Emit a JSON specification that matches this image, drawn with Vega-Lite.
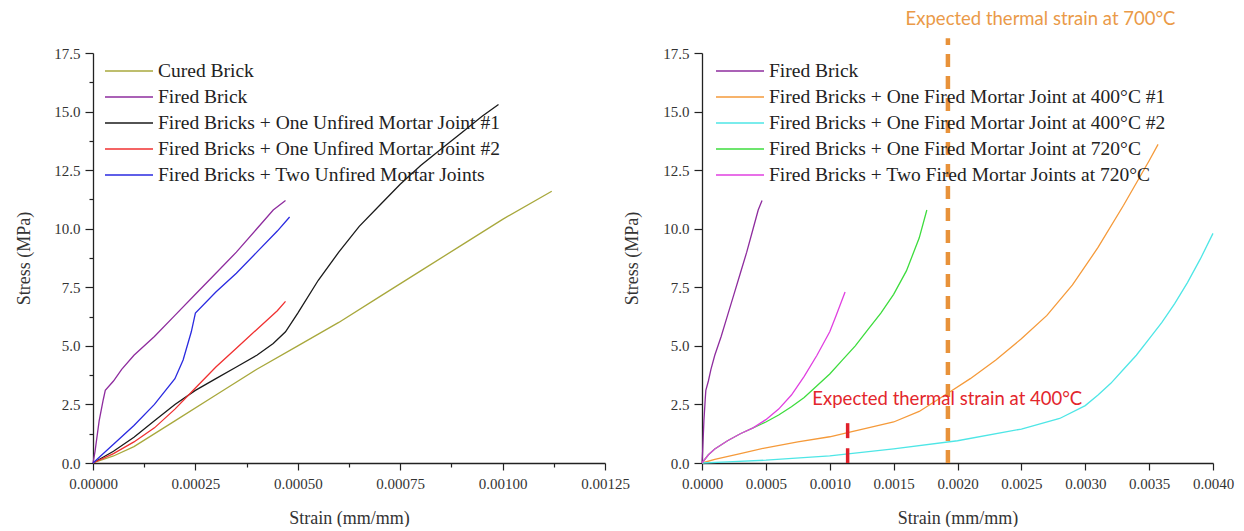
{
  "$schema": "https://vega.github.io/schema/vega-lite/v6.json",
  "background": "white",
  "padding": {"left": 15, "top": 10, "right": 5, "bottom": 0},
  "bounds": "flush",
  "spacing": 97,
  "config": {
    "view": {"stroke": null},
    "legend": {
      "labelFont": "Liberation Serif",
      "labelFontSize": 19.5,
      "labelColor": "#222222",
      "symbolType": "stroke",
      "symbolSize": 2304,
      "symbolStrokeWidth": 1.6,
      "labelLimit": 600,
      "clipHeight": 20,
      "rowPadding": 6,
      "labelOffset": 4
    }
  },
  "datasets": {
    "left": [
      {"series": "Cured Brick", "strain": 0, "stress": 0},
      {"series": "Cured Brick", "strain": 0.00005, "stress": 0.3},
      {"series": "Cured Brick", "strain": 0.0001, "stress": 0.7},
      {"series": "Cured Brick", "strain": 0.0002, "stress": 1.8},
      {"series": "Cured Brick", "strain": 0.0003, "stress": 2.9},
      {"series": "Cured Brick", "strain": 0.0004, "stress": 4.0},
      {"series": "Cured Brick", "strain": 0.0005, "stress": 5.0},
      {"series": "Cured Brick", "strain": 0.0006, "stress": 6.0},
      {"series": "Cured Brick", "strain": 0.0007, "stress": 7.1},
      {"series": "Cured Brick", "strain": 0.0008, "stress": 8.2},
      {"series": "Cured Brick", "strain": 0.0009, "stress": 9.3},
      {"series": "Cured Brick", "strain": 0.001, "stress": 10.4},
      {"series": "Cured Brick", "strain": 0.00112, "stress": 11.6},
      {"series": "Fired Brick", "strain": 0, "stress": 0},
      {"series": "Fired Brick", "strain": 0.000005, "stress": 0.5},
      {"series": "Fired Brick", "strain": 0.000015, "stress": 1.8},
      {"series": "Fired Brick", "strain": 0.000025, "stress": 2.7},
      {"series": "Fired Brick", "strain": 0.00003, "stress": 3.1},
      {"series": "Fired Brick", "strain": 0.00005, "stress": 3.5},
      {"series": "Fired Brick", "strain": 0.00007, "stress": 4.0},
      {"series": "Fired Brick", "strain": 0.0001, "stress": 4.6},
      {"series": "Fired Brick", "strain": 0.00015, "stress": 5.4},
      {"series": "Fired Brick", "strain": 0.0002, "stress": 6.3},
      {"series": "Fired Brick", "strain": 0.00025, "stress": 7.2},
      {"series": "Fired Brick", "strain": 0.0003, "stress": 8.1},
      {"series": "Fired Brick", "strain": 0.00035, "stress": 9.0},
      {"series": "Fired Brick", "strain": 0.0004, "stress": 10.0},
      {"series": "Fired Brick", "strain": 0.00044, "stress": 10.8},
      {"series": "Fired Brick", "strain": 0.00047, "stress": 11.2},
      {"series": "Fired Bricks + One Unfired Mortar Joint #1", "strain": 0, "stress": 0},
      {"series": "Fired Bricks + One Unfired Mortar Joint #1", "strain": 0.00005, "stress": 0.5},
      {"series": "Fired Bricks + One Unfired Mortar Joint #1", "strain": 0.0001, "stress": 1.1},
      {"series": "Fired Bricks + One Unfired Mortar Joint #1", "strain": 0.00015, "stress": 1.8},
      {"series": "Fired Bricks + One Unfired Mortar Joint #1", "strain": 0.0002, "stress": 2.5},
      {"series": "Fired Bricks + One Unfired Mortar Joint #1", "strain": 0.00025, "stress": 3.1},
      {"series": "Fired Bricks + One Unfired Mortar Joint #1", "strain": 0.0003, "stress": 3.6},
      {"series": "Fired Bricks + One Unfired Mortar Joint #1", "strain": 0.00035, "stress": 4.1},
      {"series": "Fired Bricks + One Unfired Mortar Joint #1", "strain": 0.0004, "stress": 4.6},
      {"series": "Fired Bricks + One Unfired Mortar Joint #1", "strain": 0.00044, "stress": 5.1},
      {"series": "Fired Bricks + One Unfired Mortar Joint #1", "strain": 0.00047, "stress": 5.6},
      {"series": "Fired Bricks + One Unfired Mortar Joint #1", "strain": 0.0005, "stress": 6.4},
      {"series": "Fired Bricks + One Unfired Mortar Joint #1", "strain": 0.00055, "stress": 7.8},
      {"series": "Fired Bricks + One Unfired Mortar Joint #1", "strain": 0.0006, "stress": 9.0},
      {"series": "Fired Bricks + One Unfired Mortar Joint #1", "strain": 0.00065, "stress": 10.1},
      {"series": "Fired Bricks + One Unfired Mortar Joint #1", "strain": 0.0007, "stress": 11.0},
      {"series": "Fired Bricks + One Unfired Mortar Joint #1", "strain": 0.00075, "stress": 11.9},
      {"series": "Fired Bricks + One Unfired Mortar Joint #1", "strain": 0.0008, "stress": 12.7},
      {"series": "Fired Bricks + One Unfired Mortar Joint #1", "strain": 0.00085, "stress": 13.4},
      {"series": "Fired Bricks + One Unfired Mortar Joint #1", "strain": 0.0009, "stress": 14.1},
      {"series": "Fired Bricks + One Unfired Mortar Joint #1", "strain": 0.00095, "stress": 14.8},
      {"series": "Fired Bricks + One Unfired Mortar Joint #1", "strain": 0.00099, "stress": 15.3},
      {"series": "Fired Bricks + One Unfired Mortar Joint #2", "strain": 0, "stress": 0},
      {"series": "Fired Bricks + One Unfired Mortar Joint #2", "strain": 0.00005, "stress": 0.4},
      {"series": "Fired Bricks + One Unfired Mortar Joint #2", "strain": 0.0001, "stress": 0.9},
      {"series": "Fired Bricks + One Unfired Mortar Joint #2", "strain": 0.00015, "stress": 1.5},
      {"series": "Fired Bricks + One Unfired Mortar Joint #2", "strain": 0.0002, "stress": 2.3},
      {"series": "Fired Bricks + One Unfired Mortar Joint #2", "strain": 0.00025, "stress": 3.2},
      {"series": "Fired Bricks + One Unfired Mortar Joint #2", "strain": 0.0003, "stress": 4.1},
      {"series": "Fired Bricks + One Unfired Mortar Joint #2", "strain": 0.00035, "stress": 4.9},
      {"series": "Fired Bricks + One Unfired Mortar Joint #2", "strain": 0.0004, "stress": 5.7},
      {"series": "Fired Bricks + One Unfired Mortar Joint #2", "strain": 0.00045, "stress": 6.5},
      {"series": "Fired Bricks + One Unfired Mortar Joint #2", "strain": 0.00047, "stress": 6.9},
      {"series": "Fired Bricks + Two Unfired Mortar Joints", "strain": 0, "stress": 0},
      {"series": "Fired Bricks + Two Unfired Mortar Joints", "strain": 0.00005, "stress": 0.8},
      {"series": "Fired Bricks + Two Unfired Mortar Joints", "strain": 0.0001, "stress": 1.6},
      {"series": "Fired Bricks + Two Unfired Mortar Joints", "strain": 0.00015, "stress": 2.5},
      {"series": "Fired Bricks + Two Unfired Mortar Joints", "strain": 0.0002, "stress": 3.6},
      {"series": "Fired Bricks + Two Unfired Mortar Joints", "strain": 0.00022, "stress": 4.4},
      {"series": "Fired Bricks + Two Unfired Mortar Joints", "strain": 0.00024, "stress": 5.6},
      {"series": "Fired Bricks + Two Unfired Mortar Joints", "strain": 0.00025, "stress": 6.4},
      {"series": "Fired Bricks + Two Unfired Mortar Joints", "strain": 0.0003, "stress": 7.3},
      {"series": "Fired Bricks + Two Unfired Mortar Joints", "strain": 0.00035, "stress": 8.1},
      {"series": "Fired Bricks + Two Unfired Mortar Joints", "strain": 0.0004, "stress": 9.0},
      {"series": "Fired Bricks + Two Unfired Mortar Joints", "strain": 0.00045, "stress": 9.9},
      {"series": "Fired Bricks + Two Unfired Mortar Joints", "strain": 0.00048, "stress": 10.5}
    ],
    "right": [
      {"series": "Fired Brick", "strain": 0, "stress": 0},
      {"series": "Fired Brick", "strain": 0.000005, "stress": 0.5},
      {"series": "Fired Brick", "strain": 0.000015, "stress": 1.8},
      {"series": "Fired Brick", "strain": 0.000025, "stress": 2.7},
      {"series": "Fired Brick", "strain": 0.00003, "stress": 3.1},
      {"series": "Fired Brick", "strain": 0.00005, "stress": 3.5},
      {"series": "Fired Brick", "strain": 0.00007, "stress": 4.0},
      {"series": "Fired Brick", "strain": 0.0001, "stress": 4.6},
      {"series": "Fired Brick", "strain": 0.00015, "stress": 5.4},
      {"series": "Fired Brick", "strain": 0.0002, "stress": 6.3},
      {"series": "Fired Brick", "strain": 0.00025, "stress": 7.2},
      {"series": "Fired Brick", "strain": 0.0003, "stress": 8.1},
      {"series": "Fired Brick", "strain": 0.00035, "stress": 9.0},
      {"series": "Fired Brick", "strain": 0.0004, "stress": 10.0},
      {"series": "Fired Brick", "strain": 0.00044, "stress": 10.8},
      {"series": "Fired Brick", "strain": 0.00047, "stress": 11.2},
      {"series": "Fired Bricks + One Fired Mortar Joint at 400°C #1", "strain": 0, "stress": 0},
      {"series": "Fired Bricks + One Fired Mortar Joint at 400°C #1", "strain": 0.0001, "stress": 0.15},
      {"series": "Fired Bricks + One Fired Mortar Joint at 400°C #1", "strain": 0.0003, "stress": 0.4},
      {"series": "Fired Bricks + One Fired Mortar Joint at 400°C #1", "strain": 0.0005, "stress": 0.65},
      {"series": "Fired Bricks + One Fired Mortar Joint at 400°C #1", "strain": 0.00075, "stress": 0.9},
      {"series": "Fired Bricks + One Fired Mortar Joint at 400°C #1", "strain": 0.001, "stress": 1.12},
      {"series": "Fired Bricks + One Fired Mortar Joint at 400°C #1", "strain": 0.00114, "stress": 1.3},
      {"series": "Fired Bricks + One Fired Mortar Joint at 400°C #1", "strain": 0.0013, "stress": 1.5},
      {"series": "Fired Bricks + One Fired Mortar Joint at 400°C #1", "strain": 0.0015, "stress": 1.75},
      {"series": "Fired Bricks + One Fired Mortar Joint at 400°C #1", "strain": 0.0017, "stress": 2.2},
      {"series": "Fired Bricks + One Fired Mortar Joint at 400°C #1", "strain": 0.00193, "stress": 3.0},
      {"series": "Fired Bricks + One Fired Mortar Joint at 400°C #1", "strain": 0.0021, "stress": 3.6},
      {"series": "Fired Bricks + One Fired Mortar Joint at 400°C #1", "strain": 0.0023, "stress": 4.4},
      {"series": "Fired Bricks + One Fired Mortar Joint at 400°C #1", "strain": 0.0025, "stress": 5.3},
      {"series": "Fired Bricks + One Fired Mortar Joint at 400°C #1", "strain": 0.0027, "stress": 6.3},
      {"series": "Fired Bricks + One Fired Mortar Joint at 400°C #1", "strain": 0.0029, "stress": 7.6},
      {"series": "Fired Bricks + One Fired Mortar Joint at 400°C #1", "strain": 0.0031, "stress": 9.2},
      {"series": "Fired Bricks + One Fired Mortar Joint at 400°C #1", "strain": 0.0033, "stress": 11.0},
      {"series": "Fired Bricks + One Fired Mortar Joint at 400°C #1", "strain": 0.0035, "stress": 12.9},
      {"series": "Fired Bricks + One Fired Mortar Joint at 400°C #1", "strain": 0.00357, "stress": 13.6},
      {"series": "Fired Bricks + One Fired Mortar Joint at 400°C #2", "strain": 0, "stress": 0},
      {"series": "Fired Bricks + One Fired Mortar Joint at 400°C #2", "strain": 0.0002, "stress": 0.05},
      {"series": "Fired Bricks + One Fired Mortar Joint at 400°C #2", "strain": 0.0005, "stress": 0.12},
      {"series": "Fired Bricks + One Fired Mortar Joint at 400°C #2", "strain": 0.001, "stress": 0.3},
      {"series": "Fired Bricks + One Fired Mortar Joint at 400°C #2", "strain": 0.0015, "stress": 0.6},
      {"series": "Fired Bricks + One Fired Mortar Joint at 400°C #2", "strain": 0.002, "stress": 0.95},
      {"series": "Fired Bricks + One Fired Mortar Joint at 400°C #2", "strain": 0.0025, "stress": 1.45},
      {"series": "Fired Bricks + One Fired Mortar Joint at 400°C #2", "strain": 0.0028, "stress": 1.9},
      {"series": "Fired Bricks + One Fired Mortar Joint at 400°C #2", "strain": 0.003, "stress": 2.45},
      {"series": "Fired Bricks + One Fired Mortar Joint at 400°C #2", "strain": 0.0031, "stress": 2.9},
      {"series": "Fired Bricks + One Fired Mortar Joint at 400°C #2", "strain": 0.0032, "stress": 3.4},
      {"series": "Fired Bricks + One Fired Mortar Joint at 400°C #2", "strain": 0.0033, "stress": 4.0},
      {"series": "Fired Bricks + One Fired Mortar Joint at 400°C #2", "strain": 0.0034, "stress": 4.6},
      {"series": "Fired Bricks + One Fired Mortar Joint at 400°C #2", "strain": 0.0035, "stress": 5.3},
      {"series": "Fired Bricks + One Fired Mortar Joint at 400°C #2", "strain": 0.0036, "stress": 6.0},
      {"series": "Fired Bricks + One Fired Mortar Joint at 400°C #2", "strain": 0.0037, "stress": 6.8},
      {"series": "Fired Bricks + One Fired Mortar Joint at 400°C #2", "strain": 0.0038, "stress": 7.7},
      {"series": "Fired Bricks + One Fired Mortar Joint at 400°C #2", "strain": 0.0039, "stress": 8.7},
      {"series": "Fired Bricks + One Fired Mortar Joint at 400°C #2", "strain": 0.004, "stress": 9.8},
      {"series": "Fired Bricks + One Fired Mortar Joint at 720°C", "strain": 0, "stress": 0},
      {"series": "Fired Bricks + One Fired Mortar Joint at 720°C", "strain": 0.00005, "stress": 0.35},
      {"series": "Fired Bricks + One Fired Mortar Joint at 720°C", "strain": 0.0001, "stress": 0.6},
      {"series": "Fired Bricks + One Fired Mortar Joint at 720°C", "strain": 0.0002, "stress": 0.95},
      {"series": "Fired Bricks + One Fired Mortar Joint at 720°C", "strain": 0.0003, "stress": 1.25},
      {"series": "Fired Bricks + One Fired Mortar Joint at 720°C", "strain": 0.0004, "stress": 1.5},
      {"series": "Fired Bricks + One Fired Mortar Joint at 720°C", "strain": 0.0005, "stress": 1.75},
      {"series": "Fired Bricks + One Fired Mortar Joint at 720°C", "strain": 0.0006, "stress": 2.05},
      {"series": "Fired Bricks + One Fired Mortar Joint at 720°C", "strain": 0.0007, "stress": 2.4},
      {"series": "Fired Bricks + One Fired Mortar Joint at 720°C", "strain": 0.0008, "stress": 2.8},
      {"series": "Fired Bricks + One Fired Mortar Joint at 720°C", "strain": 0.0009, "stress": 3.3},
      {"series": "Fired Bricks + One Fired Mortar Joint at 720°C", "strain": 0.001, "stress": 3.8},
      {"series": "Fired Bricks + One Fired Mortar Joint at 720°C", "strain": 0.0011, "stress": 4.4},
      {"series": "Fired Bricks + One Fired Mortar Joint at 720°C", "strain": 0.0012, "stress": 5.0},
      {"series": "Fired Bricks + One Fired Mortar Joint at 720°C", "strain": 0.0013, "stress": 5.7},
      {"series": "Fired Bricks + One Fired Mortar Joint at 720°C", "strain": 0.0014, "stress": 6.4},
      {"series": "Fired Bricks + One Fired Mortar Joint at 720°C", "strain": 0.0015, "stress": 7.2},
      {"series": "Fired Bricks + One Fired Mortar Joint at 720°C", "strain": 0.0016, "stress": 8.2},
      {"series": "Fired Bricks + One Fired Mortar Joint at 720°C", "strain": 0.0017, "stress": 9.6},
      {"series": "Fired Bricks + One Fired Mortar Joint at 720°C", "strain": 0.00176, "stress": 10.8},
      {"series": "Fired Bricks + Two Fired Mortar Joints at 720°C", "strain": 0, "stress": 0},
      {"series": "Fired Bricks + Two Fired Mortar Joints at 720°C", "strain": 0.00005, "stress": 0.35},
      {"series": "Fired Bricks + Two Fired Mortar Joints at 720°C", "strain": 0.0001, "stress": 0.6},
      {"series": "Fired Bricks + Two Fired Mortar Joints at 720°C", "strain": 0.0002, "stress": 0.95},
      {"series": "Fired Bricks + Two Fired Mortar Joints at 720°C", "strain": 0.0003, "stress": 1.25},
      {"series": "Fired Bricks + Two Fired Mortar Joints at 720°C", "strain": 0.0004, "stress": 1.5},
      {"series": "Fired Bricks + Two Fired Mortar Joints at 720°C", "strain": 0.0005, "stress": 1.85},
      {"series": "Fired Bricks + Two Fired Mortar Joints at 720°C", "strain": 0.0006, "stress": 2.3},
      {"series": "Fired Bricks + Two Fired Mortar Joints at 720°C", "strain": 0.0007, "stress": 2.9},
      {"series": "Fired Bricks + Two Fired Mortar Joints at 720°C", "strain": 0.0008, "stress": 3.7},
      {"series": "Fired Bricks + Two Fired Mortar Joints at 720°C", "strain": 0.0009, "stress": 4.6},
      {"series": "Fired Bricks + Two Fired Mortar Joints at 720°C", "strain": 0.001, "stress": 5.6},
      {"series": "Fired Bricks + Two Fired Mortar Joints at 720°C", "strain": 0.00105, "stress": 6.3},
      {"series": "Fired Bricks + Two Fired Mortar Joints at 720°C", "strain": 0.00112, "stress": 7.3}
    ],
    "dashline": [{"strain": 0.001925, "stress": 0, "stress2": 18.13}],
    "redmarks": [
      {"strain": 0.00114, "stress": 1.06, "stress2": 1.7},
      {"strain": 0.00114, "stress": 0, "stress2": 0.63}
    ],
    "note700": [{"label": "Expected thermal strain at 700°C", "strain": 0.00265, "stress": 18.95}],
    "note400": [{"label": "Expected thermal strain at 400°C", "strain": 0.00192, "stress": 2.72}]
  },
  "resolve": {"scale": {"color": "independent", "x": "independent", "y": "independent"}, "legend": {"color": "independent"}},
  "hconcat": [
    {
      "width": 512,
      "height": 410,
      "layer": [
        {
          "data": {"name": "left"},
          "mark": {"type": "line", "strokeWidth": 1.3},
          "encoding": {
            "x": {
              "field": "strain", "type": "quantitative",
              "scale": {"domain": [0, 0.00125], "nice": false, "zero": false},
              "axis": {
                "title": "Strain (mm/mm)",
                "grid": false,
                "labelFont": "Liberation Serif", "labelFontSize": 15, "labelColor": "#333333",
                "titleFont": "Liberation Serif", "titleFontSize": 18, "titleFontWeight": "normal", "titleColor": "#333333",
                "domainColor": "#222222", "domainWidth": 1.3, "tickColor": "#222222", "tickWidth": 1.2,
                "labelOverlap": false, "labelFlush": false, "labelBound": false,
                "values": [0, 0.000125, 0.00025, 0.000375, 0.0005, 0.000625, 0.00075, 0.000875, 0.001, 0.001125, 0.00125],
                "labelExpr": "abs(datum.value/0.00025 - round(datum.value/0.00025)) < 1e-6 ? format(datum.value, '.5f') : ''",
                "tickSize": {"condition": {"test": "abs(datum.value/0.00025 - round(datum.value/0.00025)) < 1e-6", "value": 7}, "value": 4},
                "labelPadding": 6,
                "minExtent": 28, "maxExtent": 28,
                "titlePadding": 18
              }
            },
            "y": {
              "field": "stress", "type": "quantitative",
              "scale": {"domain": [0, 17.5], "nice": false},
              "axis": {
                "title": "Stress (MPa)",
                "grid": false,
                "labelFont": "Liberation Serif", "labelFontSize": 15, "labelColor": "#333333",
                "titleFont": "Liberation Serif", "titleFontSize": 18, "titleFontWeight": "normal", "titleColor": "#333333",
                "domainColor": "#222222", "domainWidth": 1.3, "tickColor": "#222222", "tickWidth": 1.2,
                "labelOverlap": false, "labelFlush": false, "labelBound": false,
                "values": [0, 1.25, 2.5, 3.75, 5, 6.25, 7.5, 8.75, 10, 11.25, 12.5, 13.75, 15, 16.25, 17.5],
                "labelExpr": "abs(datum.value/2.5 - round(datum.value/2.5)) < 1e-6 ? format(datum.value, '.1f') : ''",
                "tickSize": {"condition": {"test": "abs(datum.value/2.5 - round(datum.value/2.5)) < 1e-6", "value": 8}, "value": 4},
                "labelPadding": 5,
                "minExtent": 42, "maxExtent": 42,
                "titlePadding": 18
              }
            },
            "color": {
              "field": "series", "type": "nominal",
              "scale": {
                "domain": ["Cured Brick", "Fired Brick", "Fired Bricks + One Unfired Mortar Joint #1", "Fired Bricks + One Unfired Mortar Joint #2", "Fired Bricks + Two Unfired Mortar Joints"],
                "range": ["#a8a83c", "#8e2c9e", "#1a1a1a", "#f03030", "#2a2ae0"]
              },
              "legend": {"orient": "none", "legendX": 11, "legendY": 8, "title": null}
            }
          }
        }
      ]
    },
    {
      "width": 511,
      "height": 410,
      "layer": [
        {
          "data": {"name": "right"},
          "mark": {"type": "line", "strokeWidth": 1.3},
          "encoding": {
            "x": {
              "field": "strain", "type": "quantitative",
              "scale": {"domain": [0, 0.004], "nice": false, "zero": false},
              "axis": {
                "title": "Strain (mm/mm)",
                "grid": false,
                "labelFont": "Liberation Serif", "labelFontSize": 15, "labelColor": "#333333",
                "titleFont": "Liberation Serif", "titleFontSize": 18, "titleFontWeight": "normal", "titleColor": "#333333",
                "domainColor": "#222222", "domainWidth": 1.3, "tickColor": "#222222", "tickWidth": 1.2,
                "labelOverlap": false, "labelFlush": false, "labelBound": false,
                "values": [0, 0.00025, 0.0005, 0.00075, 0.001, 0.00125, 0.0015, 0.00175, 0.002, 0.00225, 0.0025, 0.00275, 0.003, 0.00325, 0.0035, 0.00375, 0.004],
                "labelExpr": "abs(datum.value/0.0005 - round(datum.value/0.0005)) < 1e-6 ? format(datum.value, '.4f') : ''",
                "tickSize": {"condition": {"test": "abs(datum.value/0.0005 - round(datum.value/0.0005)) < 1e-6", "value": 7}, "value": 4},
                "labelPadding": 6,
                "minExtent": 28, "maxExtent": 28,
                "titlePadding": 18
              }
            },
            "y": {
              "field": "stress", "type": "quantitative",
              "scale": {"domain": [0, 17.5], "nice": false},
              "axis": {
                "title": "Stress (MPa)",
                "grid": false,
                "labelFont": "Liberation Serif", "labelFontSize": 15, "labelColor": "#333333",
                "titleFont": "Liberation Serif", "titleFontSize": 18, "titleFontWeight": "normal", "titleColor": "#333333",
                "domainColor": "#222222", "domainWidth": 1.3, "tickColor": "#222222", "tickWidth": 1.2,
                "labelOverlap": false, "labelFlush": false, "labelBound": false,
                "values": [0, 1.25, 2.5, 3.75, 5, 6.25, 7.5, 8.75, 10, 11.25, 12.5, 13.75, 15, 16.25, 17.5],
                "labelExpr": "abs(datum.value/2.5 - round(datum.value/2.5)) < 1e-6 ? format(datum.value, '.1f') : ''",
                "tickSize": {"condition": {"test": "abs(datum.value/2.5 - round(datum.value/2.5)) < 1e-6", "value": 8}, "value": 4},
                "labelPadding": 5,
                "minExtent": 42, "maxExtent": 42,
                "titlePadding": 19
              }
            },
            "color": {
              "field": "series", "type": "nominal",
              "scale": {
                "domain": ["Fired Brick", "Fired Bricks + One Fired Mortar Joint at 400°C #1", "Fired Bricks + One Fired Mortar Joint at 400°C #2", "Fired Bricks + One Fired Mortar Joint at 720°C", "Fired Bricks + Two Fired Mortar Joints at 720°C"],
                "range": ["#8e2c9e", "#f59a3a", "#4ee6e6", "#3ddc3d", "#e040e0"]
              },
              "legend": {"orient": "none", "legendX": 13, "legendY": 8, "title": null}
            }
          }
        },
        {
          "data": {"name": "dashline"},
          "mark": {"type": "rule", "color": "#e8923a", "strokeWidth": 4.5, "strokeDash": [13, 9]},
          "encoding": {
            "x": {"field": "strain", "type": "quantitative"},
            "y": {"field": "stress", "type": "quantitative"},
            "y2": {"field": "stress2"}
          }
        },
        {
          "data": {"name": "redmarks"},
          "mark": {"type": "rule", "color": "#e0202a", "strokeWidth": 3.5},
          "encoding": {
            "x": {"field": "strain", "type": "quantitative"},
            "y": {"field": "stress", "type": "quantitative"},
            "y2": {"field": "stress2"}
          }
        },
        {
          "data": {"name": "note700"},
          "mark": {"type": "text", "color": "#ea9a48", "font": "Lato", "fontSize": 18.5, "align": "center", "baseline": "middle"},
          "encoding": {
            "x": {"field": "strain", "type": "quantitative"},
            "y": {"field": "stress", "type": "quantitative"},
            "text": {"field": "label"}
          }
        },
        {
          "data": {"name": "note400"},
          "mark": {"type": "text", "color": "#e3262c", "font": "Lato", "fontSize": 18.5, "align": "center", "baseline": "middle"},
          "encoding": {
            "x": {"field": "strain", "type": "quantitative"},
            "y": {"field": "stress", "type": "quantitative"},
            "text": {"field": "label"}
          }
        }
      ]
    }
  ]
}
